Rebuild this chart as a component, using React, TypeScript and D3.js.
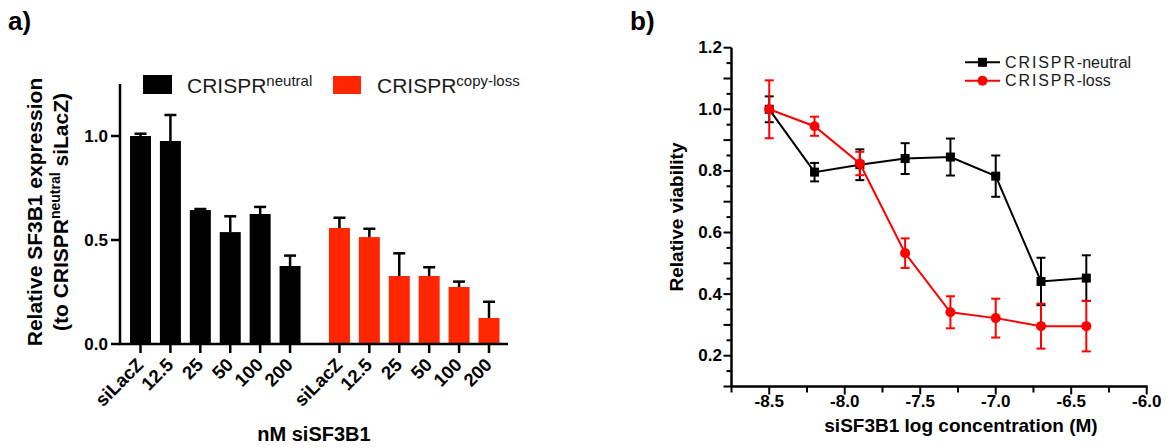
import React from 'react';
import * as d3 from 'd3';

// ---------- Panel a data ----------
const categoriesA = ['siLacZ', '12.5', '25', '50', '100', '200'];
const neutralExpr = [1.0, 0.976, 0.644, 0.538, 0.625, 0.375];
const neutralExprErr = [0.011, 0.125, 0.005, 0.076, 0.034, 0.05];
const lossExpr = [0.558, 0.514, 0.327, 0.327, 0.274, 0.125];
const lossExprErr = [0.049, 0.04, 0.109, 0.042, 0.026, 0.078];
const yTicksA = [0, 0.5, 1.0];

// ---------- Panel b data ----------
const concentrations = [-8.5, -8.2, -7.9, -7.6, -7.3, -7.0, -6.7, -6.4];
const neutralViability = [1.0, 0.796, 0.82, 0.84, 0.845, 0.783, 0.441, 0.452];
const neutralViabErr = [0.042, 0.03, 0.05, 0.05, 0.06, 0.067, 0.077, 0.074];
const lossViability = [1.0, 0.945, 0.824, 0.533, 0.341, 0.322, 0.296, 0.296];
const lossViabErr = [0.094, 0.031, 0.038, 0.048, 0.052, 0.063, 0.073, 0.082];
const xTicksB = [-8.5, -8.0, -7.5, -7.0, -6.5, -6.0];
const yTicksB = [0.2, 0.4, 0.6, 0.8, 1.0, 1.2];

const FONT = 'Arial, "Liberation Sans", Helvetica, sans-serif';
const RED_A = '#ff2600';
const RED_B = '#ff0000';

export default function App() {
  // panel a scales
  const yA = d3.scaleLinear().domain([0, 1.25]).range([344, 84]);
  const slot = d3.scaleLinear().domain([0, 11.65]).range([140.5, 489]);
  const barW = 21;
  const groupGap = 0.65;
  const barsA = [
    ...neutralExpr.map((v, i) => ({ v, e: neutralExprErr[i], x: slot(i), c: '#000', cat: categoriesA[i] })),
    ...lossExpr.map((v, i) => ({ v, e: lossExprErr[i], x: slot(6 + groupGap + i), c: RED_A, cat: categoriesA[i] })),
  ];

  // panel b scales
  const xB = d3.scaleLinear().domain([-8.75, -6.0]).range([731.5, 1146.7]);
  const yB = d3.scaleLinear().domain([0.1, 1.2]).range([386.5, 47.7]);
  const lineGen = d3
    .line<[number, number]>()
    .x((d) => xB(d[0]))
    .y((d) => yB(d[1]));
  const neutralPts = concentrations.map((c, i) => [c, neutralViability[i]] as [number, number]);
  const lossPts = concentrations.map((c, i) => [c, lossViability[i]] as [number, number]);

  const yMinorB = d3.range(0, 23).map((k) => 0.1 + k * 0.05);
  const xMinorB = d3.range(0, 12).map((k) => -8.75 + k * 0.25);

  const errBar = (x: number, y: number, e: number, color: string, key: string, capW = 9) => (
    <g key={key} stroke={color} strokeWidth={2}>
      <line x1={x} x2={x} y1={yB(y - e)} y2={yB(y + e)} />
      <line x1={x - capW / 2} x2={x + capW / 2} y1={yB(y + e)} y2={yB(y + e)} />
      <line x1={x - capW / 2} x2={x + capW / 2} y1={yB(y - e)} y2={yB(y - e)} />
    </g>
  );

  return (
    <svg
      width={1167}
      height={448}
      style={{ position: 'absolute', left: 0, top: 0, background: '#fff' }}
      fontFamily={FONT}
    >
      <rect x={0} y={0} width={1167} height={448} fill="#fff" />

      {/* ================= Panel a ================= */}
      <text x={8} y={30} fontSize={26} fontWeight="bold">a)</text>

      {/* legend */}
      <rect x={143} y={75} width={29} height={19} fill="#000" />
      <text x={187} y={92.5} fontSize={21} fill="#1a1a1a">
        CRISPR<tspan fontSize={15} dy={-7}>neutral</tspan>
      </text>
      <rect x={333} y={76} width={28} height={18} fill={RED_A} />
      <text x={377} y={92.5} fontSize={21} fill="#1a1a1a">
        CRISPR<tspan fontSize={15} dy={-7}>copy-loss</tspan>
      </text>

      {/* bars */}
      {barsA.map((b, i) => (
        <g key={'bar' + i}>
          <rect x={b.x - barW / 2} y={yA(b.v)} width={barW} height={yA(0) - yA(b.v)} fill={b.c} />
          <line x1={b.x} x2={b.x} y1={yA(b.v)} y2={yA(b.v + b.e)} stroke="#000" strokeWidth={2.5} />
          <line x1={b.x - 6} x2={b.x + 6} y1={yA(b.v + b.e)} y2={yA(b.v + b.e)} stroke="#000" strokeWidth={2.5} />
        </g>
      ))}

      {/* axes */}
      <line x1={120} x2={120} y1={yA(1.25)} y2={yA(0) + 1} stroke="#000" strokeWidth={2.5} />
      <line x1={119} x2={508} y1={yA(0)} y2={yA(0)} stroke="#000" strokeWidth={2.5} />
      {yTicksA.map((t) => (
        <g key={'ya' + t}>
          <line x1={111} x2={120} y1={yA(t)} y2={yA(t)} stroke="#000" strokeWidth={2.5} />
          <text x={108} y={yA(t)} fontSize={17} fontWeight="bold" textAnchor="end" dominantBaseline="central">
            {t.toFixed(1)}
          </text>
        </g>
      ))}
      {barsA.map((b, i) => (
        <g key={'xa' + i}>
          <line x1={b.x} x2={b.x} y1={yA(0)} y2={yA(0) + 9} stroke="#000" strokeWidth={2.5} />
          <text
            transform={`translate(${b.x + 4},${366}) rotate(-45)`}
            fontSize={18.5}
            fontWeight="bold"
            textAnchor="end"
          >
            {b.cat}
          </text>
        </g>
      ))}
      <text x={314} y={441} fontSize={20} fontWeight="bold" textAnchor="middle">nM siSF3B1</text>

      {/* y title */}
      <text transform="translate(42,212) rotate(-90)" fontSize={21} fontWeight="bold" textAnchor="middle">
        Relative SF3B1 expression
      </text>
      <text transform="translate(68,212) rotate(-90)" fontSize={21} fontWeight="bold" textAnchor="middle">
        (to CRISPR<tspan fontSize={14} dy={-8}>neutral</tspan>
        <tspan dy={8}> siLacZ)</tspan>
      </text>

      {/* ================= Panel b ================= */}
      <text x={630} y={30} fontSize={26} fontWeight="bold">b)</text>

      {/* axes */}
      <line x1={xB(-8.75)} x2={xB(-8.75)} y1={yB(1.2)} y2={yB(0.1) + 1} stroke="#000" strokeWidth={2.5} />
      <line x1={xB(-8.75) - 1} x2={xB(-6.0) + 1} y1={yB(0.1)} y2={yB(0.1)} stroke="#000" strokeWidth={2.5} />
      {yMinorB.map((t, k) => (
        <line
          key={'ybm' + k}
          x1={xB(-8.75) - (k % 2 === 0 ? 8 : 5)}
          x2={xB(-8.75)}
          y1={yB(t)}
          y2={yB(t)}
          stroke="#000"
          strokeWidth={2}
        />
      ))}
      {xMinorB.map((t, k) => (
        <line
          key={'xbm' + k}
          x1={xB(t)}
          x2={xB(t)}
          y1={yB(0.1)}
          y2={yB(0.1) + (k % 2 === 1 ? 8 : 6)}
          stroke="#000"
          strokeWidth={2}
        />
      ))}
      {yTicksB.map((t) => (
        <text
          key={'ybl' + t}
          x={722}
          y={yB(t)}
          fontSize={17}
          fontWeight="bold"
          textAnchor="end"
          dominantBaseline="central"
        >
          {t.toFixed(1)}
        </text>
      ))}
      {xTicksB.map((t) => (
        <text key={'xbl' + t} x={xB(t)} y={406.5} fontSize={17} fontWeight="bold" textAnchor="middle">
          {t.toFixed(1)}
        </text>
      ))}
      <text x={961} y={431.5} fontSize={19} fontWeight="bold" textAnchor="middle">
        siSF3B1 log concentration (M)
      </text>
      <text transform="translate(683,217) rotate(-90)" fontSize={19} fontWeight="bold" textAnchor="middle">
        Relative viability
      </text>

      {/* neutral series */}
      <path d={lineGen(neutralPts) || ''} fill="none" stroke="#000" strokeWidth={2} />
      {concentrations.map((c, i) => errBar(xB(c), neutralViability[i], neutralViabErr[i], '#000', 'ne' + i))}
      {concentrations.map((c, i) => (
        <rect key={'nm' + i} x={xB(c) - 4.5} y={yB(neutralViability[i]) - 4.5} width={9} height={9} fill="#000" />
      ))}

      {/* loss series */}
      <path d={lineGen(lossPts) || ''} fill="none" stroke={RED_B} strokeWidth={2} />
      {concentrations.map((c, i) => errBar(xB(c), lossViability[i], lossViabErr[i], RED_B, 'le' + i))}
      {concentrations.map((c, i) => (
        <circle key={'lm' + i} cx={xB(c)} cy={yB(lossViability[i])} r={5} fill={RED_B} />
      ))}

      {/* legend b */}
      <line x1={965} x2={1000} y1={62.3} y2={62.3} stroke="#000" strokeWidth={2} />
      <rect x={982.5 - 4.5} y={62.3 - 4.5} width={9} height={9} fill="#000" />
      <text x={1005} y={67.5} fontSize={16} fill="#1a1a1a">
        <tspan letterSpacing={1.9}>CRISPR</tspan>-neutral
      </text>
      <line x1={965} x2={1000} y1={80.7} y2={80.7} stroke={RED_B} strokeWidth={2} />
      <circle cx={982.5} cy={80.7} r={5} fill={RED_B} />
      <text x={1005} y={86} fontSize={16} fill="#1a1a1a">
        <tspan letterSpacing={1.9}>CRISPR</tspan>-loss
      </text>
    </svg>
  );
}
